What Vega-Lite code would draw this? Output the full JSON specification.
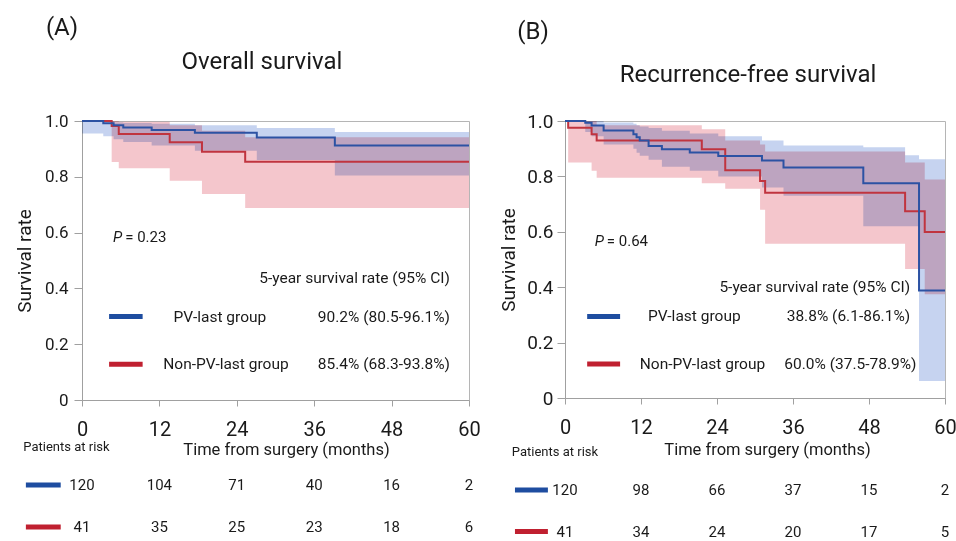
{
"$schema": "https://vega.github.io/schema/vega-lite/v6.json",
"padding": {"left": 14, "top": 15, "right": 0, "bottom": 0},
"spacing": 18,
"config": {
  "font": "Roboto",
  "view": {"stroke": "#b5b5b5", "strokeWidth": 1},
  "axis": {"grid": false, "domainColor": "#a0a0a0", "tickColor": "#a0a0a0", "labelColor": "#1a1a1a", "titleColor": "#1a1a1a", "labelFont": "Roboto", "titleFont": "Roboto", "titleFontWeight": "normal", "labelOverlap": false, "labelBound": false, "labelFlush": false},
  "text": {"font": "Roboto", "color": "#1a1a1a"}
},
"datasets": {
  "curves": [
    {"panel":"A","group":"PV","t":0,"s":1.0},{"panel":"A","group":"PV","t":3.3,"s":0.992},{"panel":"A","group":"PV","t":4.9,"s":0.985},{"panel":"A","group":"PV","t":6.4,"s":0.977},{"panel":"A","group":"PV","t":10.8,"s":0.968},{"panel":"A","group":"PV","t":17.5,"s":0.958},{"panel":"A","group":"PV","t":27.1,"s":0.941},{"panel":"A","group":"PV","t":39.2,"s":0.912},{"panel":"A","group":"PV","t":60,"s":0.912},
    {"panel":"A","group":"Non","t":0,"s":1.0},{"panel":"A","group":"Non","t":4.6,"s":0.982},{"panel":"A","group":"Non","t":5.7,"s":0.953},{"panel":"A","group":"Non","t":13.6,"s":0.924},{"panel":"A","group":"Non","t":18.6,"s":0.89},{"panel":"A","group":"Non","t":25.3,"s":0.854},{"panel":"A","group":"Non","t":60,"s":0.854},
    {"panel":"B","group":"PV","t":0,"s":1.0},{"panel":"B","group":"PV","t":3.2,"s":0.994},{"panel":"B","group":"PV","t":4.2,"s":0.984},{"panel":"B","group":"PV","t":6.1,"s":0.966},{"panel":"B","group":"PV","t":10.8,"s":0.952},{"panel":"B","group":"PV","t":11.3,"s":0.941},{"panel":"B","group":"PV","t":11.8,"s":0.93},{"panel":"B","group":"PV","t":13.2,"s":0.91},{"panel":"B","group":"PV","t":15.3,"s":0.898},{"panel":"B","group":"PV","t":19.7,"s":0.886},{"panel":"B","group":"PV","t":24.2,"s":0.874},{"panel":"B","group":"PV","t":31.1,"s":0.857},{"panel":"B","group":"PV","t":34.5,"s":0.832},{"panel":"B","group":"PV","t":47.1,"s":0.775},{"panel":"B","group":"PV","t":55.9,"s":0.388},{"panel":"B","group":"PV","t":60,"s":0.388},
    {"panel":"B","group":"Non","t":0,"s":1.0},{"panel":"B","group":"Non","t":0.5,"s":0.976},{"panel":"B","group":"Non","t":4.2,"s":0.952},{"panel":"B","group":"Non","t":5.0,"s":0.93},{"panel":"B","group":"Non","t":21.6,"s":0.898},{"panel":"B","group":"Non","t":25.3,"s":0.822},{"panel":"B","group":"Non","t":30.8,"s":0.783},{"panel":"B","group":"Non","t":31.6,"s":0.741},{"panel":"B","group":"Non","t":53.7,"s":0.674},{"panel":"B","group":"Non","t":56.8,"s":0.599},{"panel":"B","group":"Non","t":60,"s":0.599}
  ],
  "bands": [
    {"panel":"A","group":"PV","t":0,"lo":0.955,"hi":1.0},{"panel":"A","group":"PV","t":3.3,"lo":0.945,"hi":1.0},{"panel":"A","group":"PV","t":4.9,"lo":0.935,"hi":0.995},{"panel":"A","group":"PV","t":6.4,"lo":0.925,"hi":0.993},{"panel":"A","group":"PV","t":10.8,"lo":0.912,"hi":0.99},{"panel":"A","group":"PV","t":17.5,"lo":0.893,"hi":0.985},{"panel":"A","group":"PV","t":27.1,"lo":0.86,"hi":0.975},{"panel":"A","group":"PV","t":39.2,"lo":0.805,"hi":0.961},{"panel":"A","group":"PV","t":60,"lo":0.805,"hi":0.961},
    {"panel":"A","group":"Non","t":0,"lo":1.0,"hi":1.0},{"panel":"A","group":"Non","t":4.6,"lo":0.853,"hi":1.0},{"panel":"A","group":"Non","t":5.7,"lo":0.831,"hi":0.997},{"panel":"A","group":"Non","t":13.6,"lo":0.786,"hi":0.985},{"panel":"A","group":"Non","t":18.6,"lo":0.738,"hi":0.965},{"panel":"A","group":"Non","t":25.3,"lo":0.688,"hi":0.942},{"panel":"A","group":"Non","t":60,"lo":0.688,"hi":0.942},
    {"panel":"B","group":"PV","t":0,"lo":1.0,"hi":1.0},{"panel":"B","group":"PV","t":3.2,"lo":0.96,"hi":1.0},{"panel":"B","group":"PV","t":4.2,"lo":0.945,"hi":1.0},{"panel":"B","group":"PV","t":6.1,"lo":0.915,"hi":0.995},{"panel":"B","group":"PV","t":10.8,"lo":0.9,"hi":0.99},{"panel":"B","group":"PV","t":11.3,"lo":0.885,"hi":0.985},{"panel":"B","group":"PV","t":11.8,"lo":0.875,"hi":0.98},{"panel":"B","group":"PV","t":13.2,"lo":0.86,"hi":0.975},{"panel":"B","group":"PV","t":15.3,"lo":0.835,"hi":0.965},{"panel":"B","group":"PV","t":19.7,"lo":0.82,"hi":0.955},{"panel":"B","group":"PV","t":24.2,"lo":0.8,"hi":0.945},{"panel":"B","group":"PV","t":31.1,"lo":0.76,"hi":0.93},{"panel":"B","group":"PV","t":34.5,"lo":0.73,"hi":0.912},{"panel":"B","group":"PV","t":47.1,"lo":0.62,"hi":0.905},{"panel":"B","group":"PV","t":53.7,"lo":0.62,"hi":0.876},{"panel":"B","group":"PV","t":55.9,"lo":0.061,"hi":0.862},{"panel":"B","group":"PV","t":60,"lo":0.061,"hi":0.862},
    {"panel":"B","group":"Non","t":0,"lo":1.0,"hi":1.0},{"panel":"B","group":"Non","t":0.5,"lo":0.85,"hi":1.0},{"panel":"B","group":"Non","t":4.2,"lo":0.82,"hi":1.0},{"panel":"B","group":"Non","t":5.0,"lo":0.795,"hi":0.985},{"panel":"B","group":"Non","t":21.6,"lo":0.775,"hi":0.97},{"panel":"B","group":"Non","t":25.3,"lo":0.755,"hi":0.93},{"panel":"B","group":"Non","t":30.8,"lo":0.68,"hi":0.915},{"panel":"B","group":"Non","t":31.6,"lo":0.557,"hi":0.89},{"panel":"B","group":"Non","t":53.7,"lo":0.466,"hi":0.85},{"panel":"B","group":"Non","t":56.8,"lo":0.375,"hi":0.789},{"panel":"B","group":"Non","t":60,"lo":0.375,"hi":0.789}
  ],
  "risk": [
    {"panel":"A","group":"PV","t":0,"n":120},{"panel":"A","group":"PV","t":12,"n":104},{"panel":"A","group":"PV","t":24,"n":71},{"panel":"A","group":"PV","t":36,"n":40},{"panel":"A","group":"PV","t":48,"n":16},{"panel":"A","group":"PV","t":60,"n":2},
    {"panel":"A","group":"Non","t":0,"n":41},{"panel":"A","group":"Non","t":12,"n":35},{"panel":"A","group":"Non","t":24,"n":25},{"panel":"A","group":"Non","t":36,"n":23},{"panel":"A","group":"Non","t":48,"n":18},{"panel":"A","group":"Non","t":60,"n":6},
    {"panel":"B","group":"PV","t":0,"n":120},{"panel":"B","group":"PV","t":12,"n":98},{"panel":"B","group":"PV","t":24,"n":66},{"panel":"B","group":"PV","t":36,"n":37},{"panel":"B","group":"PV","t":48,"n":15},{"panel":"B","group":"PV","t":60,"n":2},
    {"panel":"B","group":"Non","t":0,"n":41},{"panel":"B","group":"Non","t":12,"n":34},{"panel":"B","group":"Non","t":24,"n":24},{"panel":"B","group":"Non","t":36,"n":20},{"panel":"B","group":"Non","t":48,"n":17},{"panel":"B","group":"Non","t":60,"n":5}
  ]
},
"hconcat": [
  {
    "width": 387, "height": 279,
    "layer": [
      {"data": {"name": "bands"}, "transform": [{"filter": "datum.panel == 'A' && datum.group == 'Non'"}],
       "mark": {"type": "area", "interpolate": "step-after", "color": "#f4c6cc", "blend": "multiply"},
       "encoding": {
         "x": {"field": "t", "type": "quantitative", "title": "Time from surgery (months)", "scale": {"domain": [0, 60], "nice": false, "zero": false},
               "axis": {"values": [0,6,12,18,24,30,36,42,48,54,60], "labelExpr": "datum.value % 12 == 0 ? datum.label : ''", "labelFontSize": 20, "tickSize": 6, "labelPadding": 13, "titleFontSize": 16.5, "titlePadding": 2, "titleX": 204}},
         "y": {"field": "lo", "type": "quantitative", "title": "Survival rate", "scale": {"domain": [0, 1], "nice": false, "zero": false},
               "axis": {"values": [0,0.1,0.2,0.3,0.4,0.5,0.6,0.7,0.8,0.9,1.0], "labelExpr": "round(datum.value*10) % 2 == 0 ? (datum.value == 0 ? '0' : format(datum.value, '.1f')) : ''", "labelFontSize": 17, "tickSize": 8, "labelPadding": 6, "titleFontSize": 19, "titlePadding": 10}},
         "y2": {"field": "hi"}}},
      {"data": {"name": "bands"}, "transform": [{"filter": "datum.panel == 'A' && datum.group == 'PV'"}],
       "mark": {"type": "area", "interpolate": "step-after", "color": "#c6d3f0", "blend": "multiply"},
       "encoding": {"x": {"field": "t", "type": "quantitative", "title": "Time from surgery (months)"}, "y": {"field": "lo", "type": "quantitative", "title": "Survival rate"}, "y2": {"field": "hi"}}},
      {"data": {"name": "curves"}, "transform": [{"filter": "datum.panel == 'A' && datum.group == 'Non'"}],
       "mark": {"type": "line", "interpolate": "step-after", "color": "#c0343f", "strokeWidth": 2},
       "encoding": {"x": {"field": "t", "type": "quantitative", "title": "Time from surgery (months)"}, "y": {"field": "s", "type": "quantitative", "title": "Survival rate"}}},
      {"data": {"name": "curves"}, "transform": [{"filter": "datum.panel == 'A' && datum.group == 'PV'"}],
       "mark": {"type": "line", "interpolate": "step-after", "color": "#2c52a3", "strokeWidth": 2},
       "encoding": {"x": {"field": "t", "type": "quantitative", "title": "Time from surgery (months)"}, "y": {"field": "s", "type": "quantitative", "title": "Survival rate"}}},
      {"data": {"name": "risk"}, "transform": [{"filter": "datum.panel == 'A' && datum.group == 'PV'"}],
       "mark": {"type": "text", "fontSize": 15, "align": "center", "baseline": "middle"},
       "encoding": {"x": {"field": "t", "type": "quantitative", "title": "Time from surgery (months)"}, "y": {"datum": -0.305, "type": "quantitative"}, "text": {"field": "n"}}},
      {"data": {"name": "risk"}, "transform": [{"filter": "datum.panel == 'A' && datum.group == 'Non'"}],
       "mark": {"type": "text", "fontSize": 15, "align": "center", "baseline": "middle"},
       "encoding": {"x": {"field": "t", "type": "quantitative", "title": "Time from surgery (months)"}, "y": {"datum": -0.455, "type": "quantitative"}, "text": {"field": "n"}}},
      {"data": {"values": [{}]},
       "mark": {"type": "rule", "color": "#1e4da0", "strokeWidth": 5},
       "encoding": {"x": {"datum": -8.7, "type": "quantitative"}, "x2": {"datum": -3.3}, "y": {"datum": -0.305, "type": "quantitative"}}},
      {"data": {"values": [{}]},
       "mark": {"type": "rule", "color": "#c02030", "strokeWidth": 5},
       "encoding": {"x": {"datum": -8.7, "type": "quantitative"}, "x2": {"datum": -3.3}, "y": {"datum": -0.455, "type": "quantitative"}}},
      {"data": {"values": [{}]},
       "mark": {"type": "rule", "color": "#1e4da0", "strokeWidth": 5},
       "encoding": {"x": {"datum": 4.2, "type": "quantitative"}, "x2": {"datum": 9.4}, "y": {"datum": 0.299, "type": "quantitative"}}},
      {"data": {"values": [{}]},
       "mark": {"type": "rule", "color": "#c02030", "strokeWidth": 5},
       "encoding": {"x": {"datum": 4.2, "type": "quantitative"}, "x2": {"datum": 9.4}, "y": {"datum": 0.128, "type": "quantitative"}}},
      {"data": {"values": [{}]}, "mark": {"type": "text", "text": "Patients at risk", "fontSize": 13, "align": "left", "baseline": "middle"},
       "encoding": {"x": {"datum": -9.1, "type": "quantitative"}, "y": {"datum": -0.168, "type": "quantitative"}}},
      {"data": {"values": [{}]}, "mark": {"type": "text", "text": "(A)", "fontSize": 24, "align": "center", "baseline": "middle"},
       "encoding": {"x": {"datum": -3.1, "type": "quantitative"}, "y": {"datum": 1.333, "type": "quantitative"}}},
      {"data": {"values": [{}]}, "mark": {"type": "text", "text": "Overall survival", "fontSize": 24, "align": "center", "baseline": "middle"},
       "encoding": {"x": {"datum": 27.9, "type": "quantitative"}, "y": {"datum": 1.211, "type": "quantitative"}}},
      {"data": {"values": [{}]}, "mark": {"type": "text", "text": "P", "fontStyle": "italic", "fontSize": 15, "align": "left", "baseline": "middle"},
       "encoding": {"x": {"datum": 4.8, "type": "quantitative"}, "y": {"datum": 0.585, "type": "quantitative"}}},
      {"data": {"values": [{}]}, "mark": {"type": "text", "text": "= 0.23", "fontSize": 15, "align": "left", "baseline": "middle"},
       "encoding": {"x": {"datum": 6.7, "type": "quantitative"}, "y": {"datum": 0.585, "type": "quantitative"}}},
      {"data": {"values": [{}]}, "mark": {"type": "text", "text": "5-year survival rate (95% CI)", "fontSize": 15.5, "align": "right", "baseline": "middle"},
       "encoding": {"x": {"datum": 57.05, "type": "quantitative"}, "y": {"datum": 0.437, "type": "quantitative"}}},
      {"data": {"values": [{}]}, "mark": {"type": "text", "text": "PV-last group", "fontSize": 15.5, "align": "left", "baseline": "middle"},
       "encoding": {"x": {"datum": 14.2, "type": "quantitative"}, "y": {"datum": 0.297, "type": "quantitative"}}},
      {"data": {"values": [{}]}, "mark": {"type": "text", "text": "90.2% (80.5-96.1%)", "fontSize": 15.5, "align": "right", "baseline": "middle"},
       "encoding": {"x": {"datum": 57.05, "type": "quantitative"}, "y": {"datum": 0.297, "type": "quantitative"}}},
      {"data": {"values": [{}]}, "mark": {"type": "text", "text": "Non-PV-last group", "fontSize": 15.5, "align": "left", "baseline": "middle"},
       "encoding": {"x": {"datum": 12.6, "type": "quantitative"}, "y": {"datum": 0.128, "type": "quantitative"}}},
      {"data": {"values": [{}]}, "mark": {"type": "text", "text": "85.4% (68.3-93.8%)", "fontSize": 15.5, "align": "right", "baseline": "middle"},
       "encoding": {"x": {"datum": 57.05, "type": "quantitative"}, "y": {"datum": 0.128, "type": "quantitative"}}}
    ]
  },
  {
    "width": 380, "height": 277,
    "layer": [
      {"data": {"name": "bands"}, "transform": [{"filter": "datum.panel == 'B' && datum.group == 'Non'"}],
       "mark": {"type": "area", "interpolate": "step-after", "color": "#f4c6cc", "blend": "multiply"},
       "encoding": {
         "x": {"field": "t", "type": "quantitative", "title": "Time from surgery (months)", "scale": {"domain": [0, 60], "nice": false, "zero": false},
               "axis": {"values": [0,6,12,18,24,30,36,42,48,54,60], "labelExpr": "datum.value % 12 == 0 ? datum.label : ''", "labelFontSize": 20, "tickSize": 6, "labelPadding": 13, "titleFontSize": 16.5, "titlePadding": 4, "titleX": 202}},
         "y": {"field": "lo", "type": "quantitative", "title": "Survival rate", "scale": {"domain": [0, 1], "nice": false, "zero": false},
               "axis": {"values": [0,0.1,0.2,0.3,0.4,0.5,0.6,0.7,0.8,0.9,1.0], "labelExpr": "round(datum.value*10) % 2 == 0 ? (datum.value == 0 ? '0' : format(datum.value, '.1f')) : ''", "labelFontSize": 19, "tickSize": 8, "labelPadding": 4, "titleFontSize": 19, "titlePadding": 8}},
         "y2": {"field": "hi"}}},
      {"data": {"name": "bands"}, "transform": [{"filter": "datum.panel == 'B' && datum.group == 'PV'"}],
       "mark": {"type": "area", "interpolate": "step-after", "color": "#c6d3f0", "blend": "multiply"},
       "encoding": {"x": {"field": "t", "type": "quantitative", "title": "Time from surgery (months)"}, "y": {"field": "lo", "type": "quantitative", "title": "Survival rate"}, "y2": {"field": "hi"}}},
      {"data": {"name": "curves"}, "transform": [{"filter": "datum.panel == 'B' && datum.group == 'Non'"}],
       "mark": {"type": "line", "interpolate": "step-after", "color": "#c0343f", "strokeWidth": 2},
       "encoding": {"x": {"field": "t", "type": "quantitative", "title": "Time from surgery (months)"}, "y": {"field": "s", "type": "quantitative", "title": "Survival rate"}}},
      {"data": {"name": "curves"}, "transform": [{"filter": "datum.panel == 'B' && datum.group == 'PV'"}],
       "mark": {"type": "line", "interpolate": "step-after", "color": "#2c52a3", "strokeWidth": 2},
       "encoding": {"x": {"field": "t", "type": "quantitative", "title": "Time from surgery (months)"}, "y": {"field": "s", "type": "quantitative", "title": "Survival rate"}}},
      {"data": {"name": "risk"}, "transform": [{"filter": "datum.panel == 'B' && datum.group == 'PV'"}],
       "mark": {"type": "text", "fontSize": 15, "align": "center", "baseline": "middle"},
       "encoding": {"x": {"field": "t", "type": "quantitative", "title": "Time from surgery (months)"}, "y": {"datum": -0.332, "type": "quantitative"}, "text": {"field": "n"}}},
      {"data": {"name": "risk"}, "transform": [{"filter": "datum.panel == 'B' && datum.group == 'Non'"}],
       "mark": {"type": "text", "fontSize": 15, "align": "center", "baseline": "middle"},
       "encoding": {"x": {"field": "t", "type": "quantitative", "title": "Time from surgery (months)"}, "y": {"datum": -0.482, "type": "quantitative"}, "text": {"field": "n"}}},
      {"data": {"values": [{}]},
       "mark": {"type": "rule", "color": "#1e4da0", "strokeWidth": 5},
       "encoding": {"x": {"datum": -7.9, "type": "quantitative"}, "x2": {"datum": -2.7}, "y": {"datum": -0.332, "type": "quantitative"}}},
      {"data": {"values": [{}]},
       "mark": {"type": "rule", "color": "#c02030", "strokeWidth": 5},
       "encoding": {"x": {"datum": -7.9, "type": "quantitative"}, "x2": {"datum": -2.7}, "y": {"datum": -0.482, "type": "quantitative"}}},
      {"data": {"values": [{}]},
       "mark": {"type": "rule", "color": "#1e4da0", "strokeWidth": 5},
       "encoding": {"x": {"datum": 3.5, "type": "quantitative"}, "x2": {"datum": 8.7}, "y": {"datum": 0.294, "type": "quantitative"}}},
      {"data": {"values": [{}]},
       "mark": {"type": "rule", "color": "#c02030", "strokeWidth": 5},
       "encoding": {"x": {"datum": 3.5, "type": "quantitative"}, "x2": {"datum": 8.7}, "y": {"datum": 0.123, "type": "quantitative"}}},
      {"data": {"values": [{}]}, "mark": {"type": "text", "text": "Patients at risk", "fontSize": 13, "align": "left", "baseline": "middle"},
       "encoding": {"x": {"datum": -8.4, "type": "quantitative"}, "y": {"datum": -0.194, "type": "quantitative"}}},
      {"data": {"values": [{}]}, "mark": {"type": "text", "text": "(B)", "fontSize": 24, "align": "center", "baseline": "middle"},
       "encoding": {"x": {"datum": -5.05, "type": "quantitative"}, "y": {"datum": 1.322, "type": "quantitative"}}},
      {"data": {"values": [{}]}, "mark": {"type": "text", "text": "Recurrence-free survival", "fontSize": 24, "align": "center", "baseline": "middle"},
       "encoding": {"x": {"datum": 28.9, "type": "quantitative"}, "y": {"datum": 1.166, "type": "quantitative"}}},
      {"data": {"values": [{}]}, "mark": {"type": "text", "text": "P", "fontStyle": "italic", "fontSize": 15, "align": "left", "baseline": "middle"},
       "encoding": {"x": {"datum": 4.7, "type": "quantitative"}, "y": {"datum": 0.565, "type": "quantitative"}}},
      {"data": {"values": [{}]}, "mark": {"type": "text", "text": "= 0.64", "fontSize": 15, "align": "left", "baseline": "middle"},
       "encoding": {"x": {"datum": 6.6, "type": "quantitative"}, "y": {"datum": 0.565, "type": "quantitative"}}},
      {"data": {"values": [{}]}, "mark": {"type": "text", "text": "5-year survival rate (95% CI)", "fontSize": 15.5, "align": "right", "baseline": "middle"},
       "encoding": {"x": {"datum": 54.5, "type": "quantitative"}, "y": {"datum": 0.402, "type": "quantitative"}}},
      {"data": {"values": [{}]}, "mark": {"type": "text", "text": "PV-last group", "fontSize": 15.5, "align": "left", "baseline": "middle"},
       "encoding": {"x": {"datum": 13.1, "type": "quantitative"}, "y": {"datum": 0.296, "type": "quantitative"}}},
      {"data": {"values": [{}]}, "mark": {"type": "text", "text": "38.8% (6.1-86.1%)", "fontSize": 15.5, "align": "right", "baseline": "middle"},
       "encoding": {"x": {"datum": 54.5, "type": "quantitative"}, "y": {"datum": 0.296, "type": "quantitative"}}},
      {"data": {"values": [{}]}, "mark": {"type": "text", "text": "Non-PV-last group", "fontSize": 15.5, "align": "left", "baseline": "middle"},
       "encoding": {"x": {"datum": 11.8, "type": "quantitative"}, "y": {"datum": 0.123, "type": "quantitative"}}},
      {"data": {"values": [{}]}, "mark": {"type": "text", "text": "60.0% (37.5-78.9%)", "fontSize": 15.5, "align": "right", "baseline": "middle"},
       "encoding": {"x": {"datum": 55.5, "type": "quantitative"}, "y": {"datum": 0.123, "type": "quantitative"}}}
    ]
  }
]
}
